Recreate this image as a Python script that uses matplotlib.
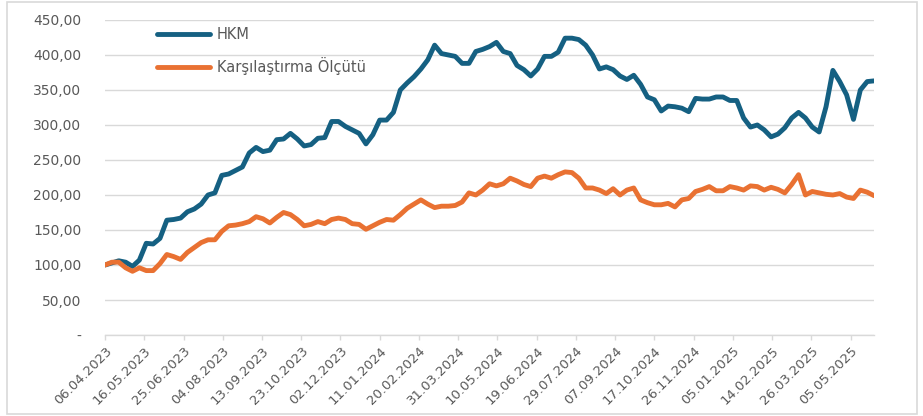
import matplotlib
matplotlib.use('Agg')
import matplotlib.pyplot as plt
import matplotlib.dates as mdates
import matplotlib.ticker as mticker
from matplotlib.patches import Rectangle
import pandas as pd

# Haftalık endeks değerleri (başlangıç = 100)
hkm = [100, 103, 106, 104, 98, 107, 131, 130, 138, 164, 165, 167, 176, 180, 187, 200, 203, 228, 230,
       235, 240, 260, 268, 262, 264, 279, 280, 288, 280, 270, 272, 281, 282, 305, 305, 298, 293, 288,
       273, 286, 307, 307, 318, 350, 360, 369, 380, 393, 414, 402, 400, 398, 388, 388, 405, 408, 412,
       418, 405, 402, 385, 379, 370, 380, 398, 398, 404, 424, 424, 422, 414, 400, 380, 383, 379, 370,
       365, 371, 358, 340, 336, 320, 327, 326, 324, 319, 338, 337, 337, 340, 340, 335, 335, 310, 297,
       300, 293, 283, 287, 296, 310, 318, 310, 297, 290, 326, 378, 362, 343, 308, 350, 362, 363]

olcut = [100, 104, 104, 96, 91, 96, 92, 92, 102, 115, 112, 108, 118, 125, 132, 136, 136, 148, 156,
         157, 159, 162, 169, 166, 160, 168, 175, 172, 165, 156, 158, 162, 159, 165, 167, 165, 159, 158,
         151, 156, 161, 165, 164, 172, 181, 187, 193, 187, 182, 184, 184, 185, 190, 203, 200, 207, 216,
         213, 216, 224, 220, 215, 212, 224, 227, 224, 229, 233, 232, 224, 210, 210, 207, 202, 209, 200,
         207, 210, 193, 189, 186, 186, 188, 183, 193, 195, 205, 208, 212, 206, 206, 212, 210, 207, 213,
         212, 207, 211, 208, 203, 215, 229, 200, 205, 203, 201, 200, 202, 197, 195, 207, 204, 199]

dates = pd.date_range('2023-04-06', periods=len(hkm), freq='7D')
series_names = ['HKM', 'Karşılaştırma Ölçütü']

blue = '#156082'
orange = '#E97132'
grid_gray = '#D9D9D9'
text_gray = '#595959'

plt.rcParams['font.family'] = ['DejaVu Sans']

fig = plt.figure(figsize=(9.23, 4.16), dpi=100)
ax = fig.add_axes([0.1138, 0.1947, 0.947 - 0.1138, 0.952 - 0.1947])

line_kw = dict(linewidth=3.5, solid_joinstyle='round', solid_capstyle='round')
ax.plot(dates, hkm, color=blue, label=series_names[0], **line_kw)
ax.plot(dates, olcut, color=orange, label=series_names[1], **line_kw)

ax.set_xlim(dates[0], dates[-1])
ax.set_ylim(0, 450)

# Y ekseni: 50'lik adımlar, virgüllü gösterim, sıfır yerine "-"
ax.yaxis.set_major_locator(mticker.MultipleLocator(50))
ax.yaxis.set_major_formatter(mticker.FuncFormatter(
    lambda v, pos: '-' if v == 0 else f'{v:.2f}'.replace('.', ',')))

# X ekseni: 40 günde bir tarih etiketi
ticks = pd.date_range(dates[0], dates[-1], freq='40D')
ax.set_xticks(ticks)
ax.xaxis.set_major_formatter(mdates.DateFormatter('%d.%m.%Y'))

ax.grid(axis='y', color=grid_gray, linewidth=1.0)
ax.set_axisbelow(True)
for side in ['left', 'right', 'top']:
    ax.spines[side].set_visible(False)
ax.spines['bottom'].set_color(grid_gray)
ax.spines['bottom'].set_linewidth(1.0)

ax.tick_params(axis='y', length=0, pad=17, labelsize=10, labelcolor=text_gray)
ax.tick_params(axis='x', length=3.5, color=grid_gray, width=1.0, pad=3,
               labelsize=9.5, labelcolor=text_gray)
for lbl in ax.get_xticklabels():
    lbl.set_rotation(45)
    lbl.set_ha('right')
    lbl.set_rotation_mode('anchor')

leg = ax.legend(loc='upper left', bbox_to_anchor=(0.1625, 0.952),
                bbox_transform=fig.transFigure, frameon=False, borderpad=0,
                handlelength=3.6, handletextpad=0.5, labelspacing=1.0,
                fontsize=10.5)
for t in leg.get_texts():
    t.set_color(text_gray)

# Grafik çerçevesi
fig.patches.append(Rectangle((7 / 923, 2 / 416), 910 / 923, 412 / 416,
                             transform=fig.transFigure, fill=False,
                             edgecolor=grid_gray, linewidth=1.2))

fig.savefig('out.png', dpi=100)
